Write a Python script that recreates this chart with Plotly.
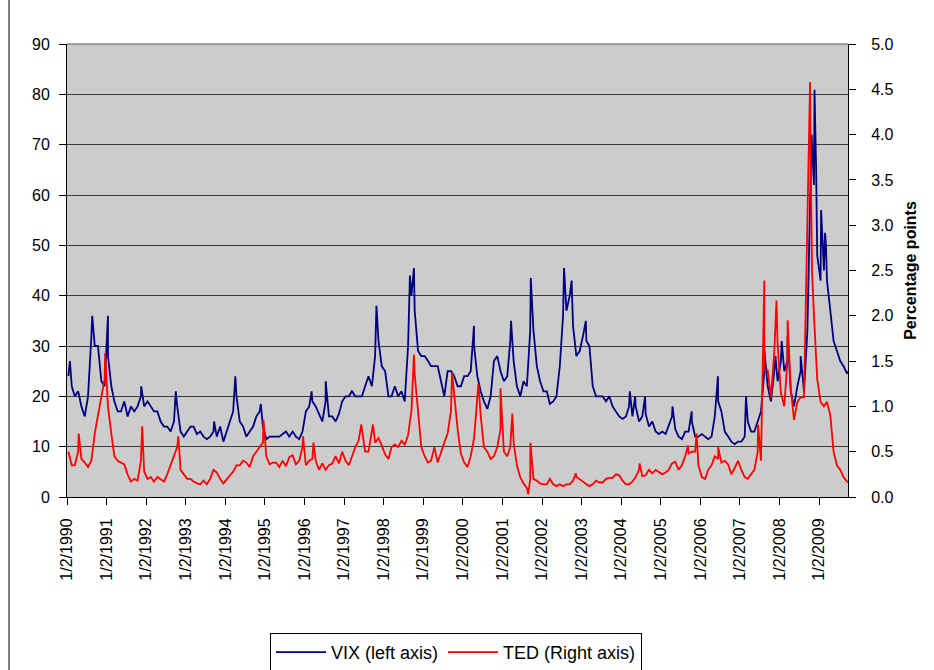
import pandas as pd
import plotly.graph_objects as go

# ---------------- data ----------------
# monthly representative values, Jan 1990 .. Sep 2009 (placed mid-month)
vix_monthly = [
    24, 22, 20, 21, 18, 16, 20, 32, 30, 30, 23, 22,          # 1990
    28, 22, 19, 17, 17, 19, 16, 18, 17, 18, 20, 18,          # 1991
    19, 18, 17, 17, 15, 14, 14, 13, 15, 18, 13, 12,          # 1992
    13, 14, 14, 12.5, 13, 12, 11.5, 12, 13, 12, 14, 11,      # 1993
    13, 15, 17, 20, 15, 14, 12, 13, 14, 16, 17, 14,          # 1994
    11.5, 12, 12, 12, 12, 12.5, 13, 12, 13, 12, 11.5, 13,    # 1995
    17, 18, 19, 18, 16.5, 15, 19, 16, 16, 15, 16.5, 19,      # 1996
    20, 20, 21, 20, 20, 20, 22, 24, 22, 28, 31, 26,          # 1997
    25, 20, 20, 22, 20, 21, 19, 30, 40, 37, 29, 28,          # 1998
    28, 27, 26, 26, 26, 23, 20, 25, 25, 24, 22, 22,          # 1999
    24, 24, 25, 30, 24, 21, 19, 17.5, 20, 27, 28, 25,        # 2000
    23, 24, 31, 27, 22, 20, 23, 22, 33, 33, 26, 23,          # 2001
    21, 21, 18.5, 19, 20, 26, 36, 37, 40, 34, 28, 29,        # 2002
    32, 31, 30, 22, 20, 20, 20, 19, 20, 18, 17, 16,          # 2003
    15.5, 16, 18, 16, 18, 15, 16, 16.5, 14, 15, 13, 12.5,    # 2004
    13, 12.5, 14, 16, 13.5, 12, 11.5, 13, 13, 15, 12, 12,    # 2005
    12.5, 12, 11.5, 12, 16, 19, 17, 13, 12, 11, 10.5, 11,    # 2006
    11, 12, 15, 13, 13, 15, 17, 25, 22, 19, 25, 23,          # 2007
    27, 25, 27, 21, 18, 22, 25, 21, 33, 60, 62, 48,          # 2008
    43, 45, 43, 37, 31, 29, 27, 26, 24.5,                    # 2009
]

ted_monthly = [
    0.5, 0.35, 0.35, 0.5, 0.42, 0.38, 0.33, 0.4, 0.7, 0.9, 1.1, 1.3,          # 1990
    1.0, 0.7, 0.45, 0.4, 0.38, 0.36, 0.25, 0.17, 0.2, 0.18, 0.4, 0.28,        # 1991
    0.2, 0.22, 0.17, 0.22, 0.2, 0.17, 0.25, 0.35, 0.45, 0.55, 0.3, 0.25,      # 1992
    0.2, 0.2, 0.17, 0.15, 0.14, 0.18, 0.14, 0.2, 0.3, 0.27, 0.2, 0.15,        # 1993
    0.2, 0.24, 0.28, 0.35, 0.35, 0.4, 0.38, 0.33, 0.45, 0.5, 0.55, 0.6,       # 1994
    0.45, 0.36, 0.38, 0.38, 0.33, 0.4, 0.34, 0.44, 0.46, 0.36, 0.4, 0.55,     # 1995
    0.35, 0.4, 0.42, 0.4, 0.3, 0.37, 0.3, 0.35, 0.37, 0.45, 0.37, 0.5,        # 1996
    0.4, 0.35, 0.45, 0.55, 0.62, 0.75, 0.5, 0.5, 0.7, 0.6, 0.65, 0.57,        # 1997
    0.47, 0.42, 0.55, 0.58, 0.55, 0.62, 0.58, 0.68, 0.95, 1.35, 0.95, 0.55,   # 1998
    0.45, 0.38, 0.4, 0.55, 0.38, 0.5, 0.6, 0.7, 0.95, 1.1, 0.75, 0.48,        # 1999
    0.38, 0.33, 0.45, 0.65, 1.05, 0.9, 0.55, 0.5, 0.42, 0.45, 0.55, 0.75,     # 2000
    0.5, 0.45, 0.55, 0.6, 0.35, 0.22, 0.15, 0.1, 0.2, 0.2, 0.18, 0.15,        # 2001
    0.14, 0.14, 0.2, 0.14, 0.12, 0.14, 0.12, 0.14, 0.14, 0.18, 0.22, 0.2,     # 2002
    0.17, 0.14, 0.12, 0.14, 0.18, 0.16, 0.16, 0.2, 0.21, 0.21, 0.25, 0.24,    # 2003
    0.18, 0.14, 0.14, 0.17, 0.22, 0.3, 0.23, 0.24, 0.3, 0.26, 0.3, 0.28,      # 2004
    0.25, 0.27, 0.3, 0.37, 0.39, 0.3, 0.35, 0.45, 0.48, 0.5, 0.5, 0.35,       # 2005
    0.22, 0.2, 0.3, 0.35, 0.45, 0.42, 0.38, 0.4, 0.36, 0.25, 0.32, 0.4,       # 2006
    0.3, 0.22, 0.2, 0.25, 0.3, 0.5, 0.4, 1.4, 1.4, 1.1, 1.6, 1.7,             # 2007
    1.15, 1.0, 1.5, 1.2, 0.85, 1.05, 1.1, 1.1, 2.9, 3.8, 2.0, 1.3,            # 2008
    1.05, 1.0, 1.05, 0.9, 0.5, 0.35, 0.3, 0.22, 0.17,                         # 2009
]

# extra points at visible spikes / troughs
vix_peak_dates = [
    "1990-01-29", "1990-08-23", "1991-01-15", "1991-11-18", "1992-10-02",
    "1993-09-20", "1994-04-04", "1994-11-25", "1996-03-08", "1996-07-16",
    "1997-10-27", "1998-09-01", "1998-10-08", "2000-04-14", "2001-03-22",
    "2001-09-20", "2002-07-24", "2002-10-02", "2003-02-10", "2004-03-22",
    "2004-05-10", "2004-08-10", "2005-04-20", "2005-10-14", "2006-06-13",
    "2007-02-27", "2007-08-16", "2007-11-26", "2008-01-22", "2008-03-17",
    "2008-07-15", "2008-09-29", "2008-10-24", "2008-11-20", "2008-12-05",
    "2009-01-20", "2009-02-25", "2009-03-06", "2009-09-24",
]
vix_peak_values = [
    27, 36, 36, 22, 21,
    15, 24, 18.5, 21, 23,
    38, 44, 45.5, 34, 35,
    43.5, 45.5, 43, 35, 21,
    20, 20, 18, 17, 24,
    20, 29, 28, 31, 32,
    28, 46, 72, 80.9, 65,
    57, 52.5, 50, 25,
]

ted_peak_dates = [
    "1990-04-20", "1990-12-20", "1991-11-27", "1992-10-25", "1994-12-20",
    "1995-12-20", "1996-03-25", "1997-06-10", "1997-09-25", "1998-10-08",
    "1999-09-25", "2000-05-25", "2000-12-15", "2001-04-03", "2001-08-28",
    "2001-09-17", "2002-11-10", "2004-06-20", "2005-09-10", "2005-11-28",
    "2006-06-15", "2007-06-18", "2007-08-15", "2007-12-05", "2008-03-17",
    "2008-10-10", "2008-10-28", "2009-09-24",
]
ted_peak_values = [
    0.7, 1.59, 0.78, 0.67, 0.85,
    0.67, 0.6, 0.8, 0.8, 1.57,
    1.37, 1.25, 1.2, 0.92, 0.03,
    0.6, 0.26, 0.37, 0.57, 0.7,
    0.55, 0.8, 2.39, 2.17, 1.95,
    4.58, 2.5, 0.16,
]

tick_years = list(range(1990, 2010))
tick_labels = [f"1/2/{y}" for y in tick_years]

# ---------------- build series ----------------
month_dates = list(pd.date_range("1990-01-01", periods=len(vix_monthly), freq="MS")
                   + pd.Timedelta(days=14))


def merged(monthly, pdates, pvals):
    s = pd.Series(list(monthly) + list(pvals),
                  index=month_dates + list(pd.to_datetime(pdates)))
    return s.sort_index()


vix = merged(vix_monthly, vix_peak_dates, vix_peak_values)
ted = merged(ted_monthly, ted_peak_dates, ted_peak_values)

FONT = "Liberation Sans, Arial, sans-serif"

fig = go.Figure()
fig.add_trace(go.Scatter(x=vix.index, y=vix.values, mode="lines",
                         name="VIX (left axis)",
                         line=dict(color="#000080", width=1.8)))
fig.add_trace(go.Scatter(x=ted.index, y=ted.values, mode="lines",
                         name="TED (Right axis)", yaxis="y2",
                         line=dict(color="#FF0000", width=1.8)))

L, R, T, B = 67, 848, 44, 497
W, H = 934, 670
pw, ph = R - L, B - T

fig.update_layout(
    width=W, height=H,
    margin=dict(l=L, r=W - R, t=T, b=H - B, pad=0, autoexpand=False),
    paper_bgcolor="white",
    plot_bgcolor="#CCCCCC",
    font=dict(family=FONT, size=16, color="black"),
    showlegend=True,
    legend=dict(
        orientation="h",
        xref="container", yref="container",
        x=456 / W, xanchor="center",
        y=(H - 633) / H, yanchor="top",
        bordercolor="black", borderwidth=1,
        bgcolor="white",
        font=dict(family=FONT, size=18),
        itemwidth=50,
        itemclick=False,
    ),
    xaxis=dict(
        type="date",
        range=["1990-01-02", "2009-09-25"],
        tickmode="array",
        tickvals=[f"{y}-01-02" for y in tick_years],
        ticktext=tick_labels,
        tickangle=-90,
        ticks="outside", ticklen=7, tickcolor="black",
        ticklabelstandoff=7,
        showgrid=False, zeroline=False,
        showline=True, linecolor="black", linewidth=1,
        tickfont=dict(family=FONT, size=16),
    ),
    yaxis=dict(
        range=[0, 90], dtick=10, tick0=0,
        ticks="outside", ticklen=7, tickcolor="black",
        ticklabelstandoff=6,
        showgrid=True, gridcolor="#3a3a3a", gridwidth=1,
        zeroline=False,
        showline=True, linecolor="black", linewidth=1,
        tickfont=dict(family=FONT, size=16),
    ),
    yaxis2=dict(
        range=[0, 5], dtick=0.5, tick0=0, tickformat=".1f",
        overlaying="y", side="right",
        ticks="outside", ticklen=7, tickcolor="black",
        ticklabelstandoff=12,
        showgrid=False, zeroline=False,
        showline=True, linecolor="black", linewidth=1,
        tickfont=dict(family=FONT, size=16),
        title=dict(text="<b>Percentage points</b>",
                   font=dict(family=FONT, size=16), standoff=12),
    ),
    shapes=[
        # top border of the plotting area
        dict(type="line", xref="paper", yref="paper", x0=0, x1=1, y0=1, y1=1,
             line=dict(color="#5a5a5a", width=1)),
        # left edge of the chart frame
        dict(type="line", xref="paper", yref="paper",
             x0=(9 - L) / pw, x1=(9 - L) / pw,
             y0=(B - H) / ph, y1=(B - 0) / ph,
             line=dict(color="black", width=1)),
    ],
)

fig.write_html(
    "out.html",
    config={"displayModeBar": False},
    post_script="document.body.style.margin='0';document.body.style.padding='0';",
)
